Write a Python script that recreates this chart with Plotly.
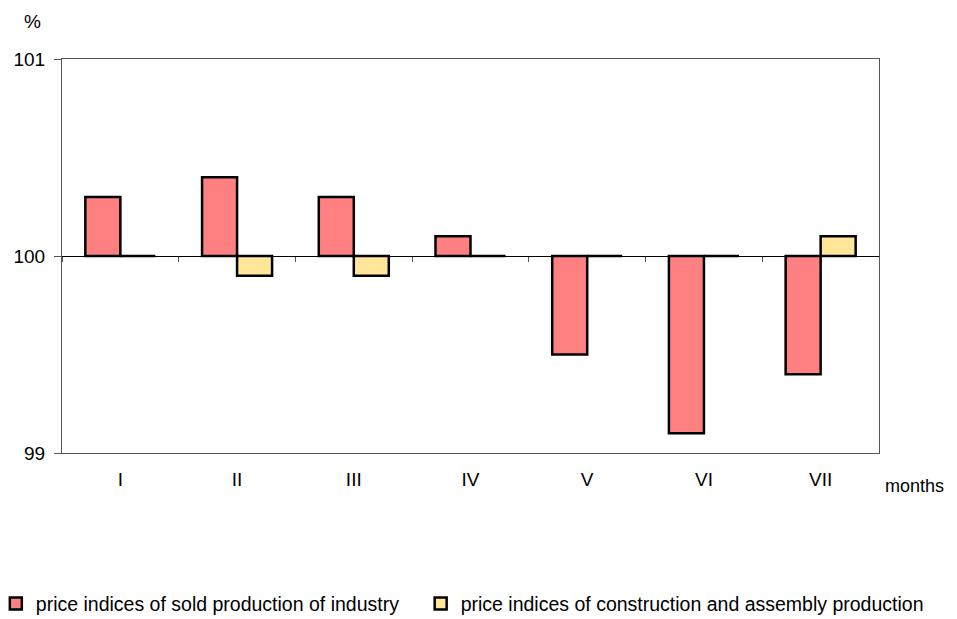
import plotly.graph_objects as go

months = ["I", "II", "III", "IV", "V", "VI", "VII"]
industry = [100.3, 100.4, 100.3, 100.1, 99.5, 99.1, 99.4]
construction = [100.0, 99.9, 99.9, 100.0, 100.0, 100.0, 100.1]
base_value = 100
name_industry = "price indices of sold production of industry"
name_construction = "price indices of construction and assembly production"

FONT = "Liberation Sans, Arial, sans-serif"
FS = 19

fig = go.Figure()
fig.add_trace(go.Bar(
    x=months, y=[v - base_value for v in industry], base=base_value,
    name=name_industry, marker=dict(color="#FF8080", line=dict(color="black", width=2.5)),
    hoverinfo="skip", legend="legend",
))
fig.add_trace(go.Bar(
    x=months, y=[v - base_value for v in construction], base=base_value,
    name=name_construction, marker=dict(color="#FFE699", line=dict(color="black", width=2.5)),
    hoverinfo="skip", legend="legend2",
))
# invisible trace carrying the crossing axis at 100
fig.add_trace(go.Scatter(x=months, y=[base_value] * len(months), xaxis="x2", mode="lines",
                         line=dict(color="rgba(0,0,0,0)"), showlegend=False, hoverinfo="skip"))

legend_common = dict(orientation="h", yanchor="middle", xanchor="left",
                     font=dict(size=19.5), itemwidth=30, bgcolor="rgba(0,0,0,0)")

fig.update_layout(
    width=949, height=611,
    margin=dict(l=54, r=78, t=51, b=166, autoexpand=False),
    paper_bgcolor="white", plot_bgcolor="white",
    font=dict(family=FONT, size=FS, color="black"),
    barmode="group", bargap=0.4, bargroupgap=0,
    showlegend=True,
    legend=dict(x=-0.081, y=-0.383, **legend_common),
    legend2=dict(x=0.439, y=-0.383, **legend_common),
    xaxis=dict(type="category", showgrid=False, showline=True, mirror=True,
               linecolor="#555555", linewidth=1, ticks="", ticklabelstandoff=9,
               tickfont=dict(size=FS)),
    xaxis2=dict(type="category", overlaying="x", matches="x", anchor="free", position=0.5,
                side="bottom", showline=True, linecolor="black", linewidth=1,
                ticks="outside", tickson="boundaries", ticklen=5, tickcolor="#555555",
                showticklabels=False, showgrid=False),
    yaxis=dict(range=[99, 101], tickvals=[99, 100, 101], showgrid=False,
               showline=True, mirror=True, linecolor="#555555", linewidth=1,
               ticks="outside", ticklen=7, tickcolor="#555555", zeroline=False,
               ticklabelstandoff=5, tickfont=dict(size=FS)),
    annotations=[
        dict(text="%", xref="paper", yref="paper", x=-0.036, y=1.095, xanchor="center",
             yanchor="middle", showarrow=False, font=dict(size=FS)),
        dict(text="months", xref="paper", yref="paper", x=1.0, y=-0.085, xanchor="left",
             yanchor="middle", xshift=4, showarrow=False, font=dict(size=18)),
    ],
)

fig.write_html("out.html")
